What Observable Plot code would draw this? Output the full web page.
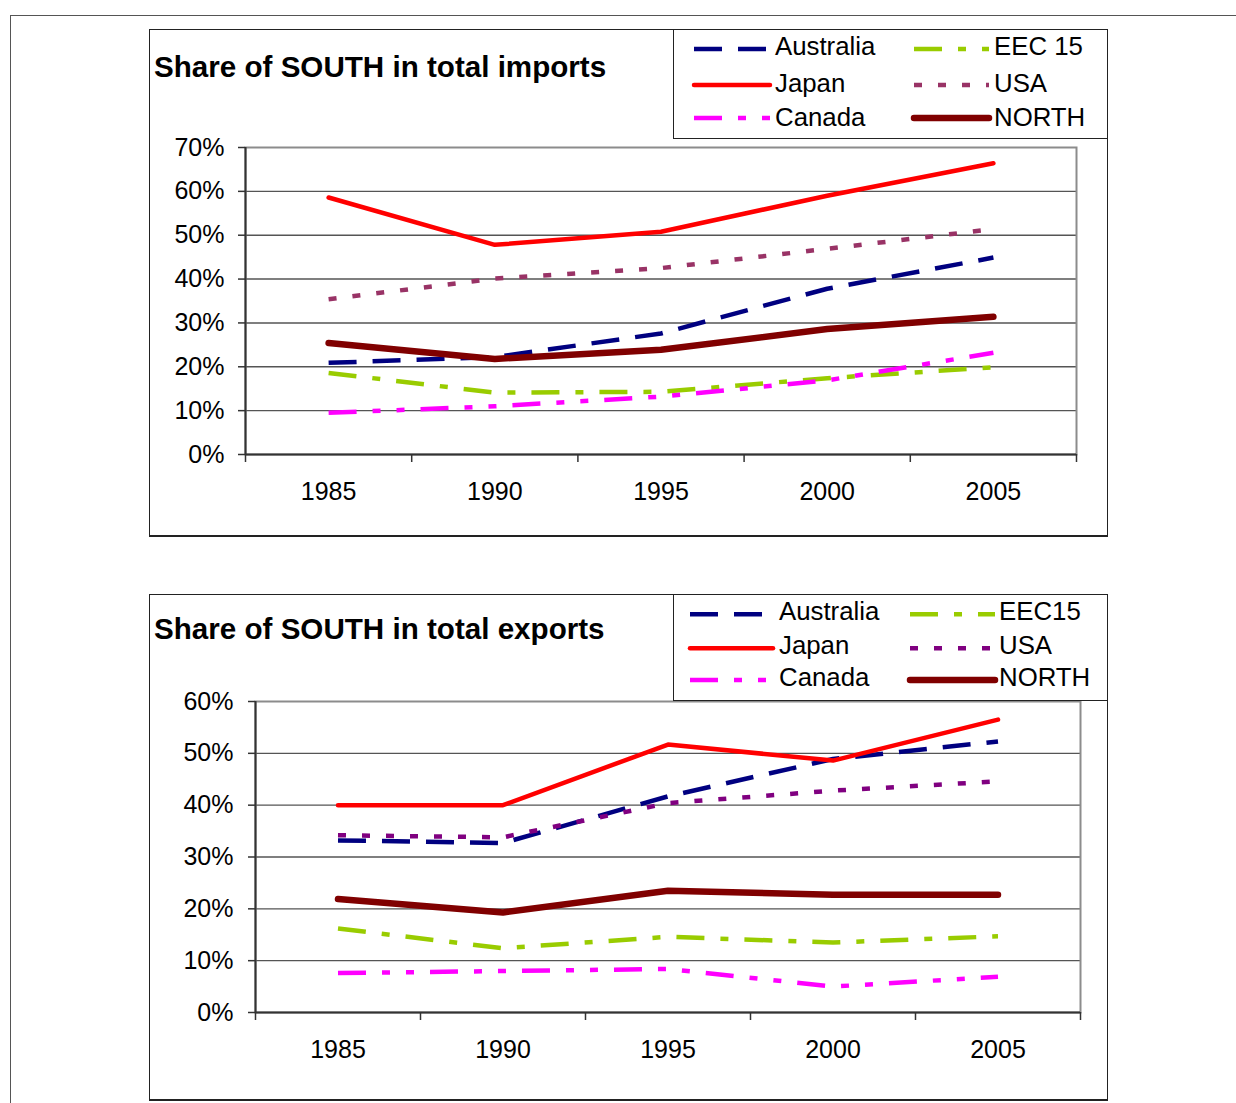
<!DOCTYPE html>
<html><head><meta charset="utf-8">
<script src="https://cdn.jsdelivr.net/npm/d3@7"></script>
<script src="https://cdn.jsdelivr.net/npm/@observablehq/plot@0.6"></script>
<style>
*{box-sizing:border-box;}
body{margin:0;width:1236px;height:1103px;position:relative;overflow:hidden;background:#fff;font-family:"Liberation Sans",Arial,sans-serif;color:#000;}
.outer{position:absolute;left:10px;top:15px;width:1260px;height:1120px;border-top:1.5px solid #555;border-left:1.5px solid #555;}
.box{position:absolute;left:149px;width:959px;border:1.5px solid #222;border-bottom-width:2.5px;}
.title{position:absolute;left:154px;font-weight:bold;font-size:29.6px;line-height:29px;white-space:nowrap;}
.legend{position:absolute;left:673px;width:435px;border:1.5px solid #222;background:#fff;}
.chart{position:absolute;left:150px;}
</style></head><body>
<div class="outer"></div>
<div class="box" style="top:29px;height:508px;"></div>
<div class="box" style="top:594px;height:507px;"></div>
<div class="title" style="top:52px;">Share of SOUTH in total imports</div>
<div class="title" style="top:614px;">Share of SOUTH in total exports</div>
<div id="chart1" class="chart" style="top:120px;"></div>
<div id="chart2" class="chart" style="top:680px;"></div>
<div id="legend1" class="legend" style="top:29px;height:110px;"></div>
<div id="legend2" class="legend" style="top:594px;height:107px;"></div>
<script>
// ---- data ----
const years = [1985, 1990, 1995, 2000, 2005];

const importNames = ["Australia", "Japan", "Canada", "EEC 15", "USA", "NORTH"];
const importsAustralia = [0.209, 0.222, 0.276, 0.378, 0.449];
const importsJapan     = [0.586, 0.478, 0.508, 0.590, 0.664];
const importsCanada    = [0.095, 0.110, 0.132, 0.169, 0.232];
const importsEEC15     = [0.186, 0.141, 0.143, 0.174, 0.199];
const importsUSA       = [0.354, 0.401, 0.425, 0.469, 0.514];
const importsNORTH     = [0.254, 0.218, 0.239, 0.286, 0.314];
const importTicks = [0, 0.1, 0.2, 0.3, 0.4, 0.5, 0.6, 0.7];

const exportNames = ["Australia", "Japan", "Canada", "EEC15", "USA", "NORTH"];
const exportsAustralia = [0.332, 0.327, 0.417, 0.489, 0.523];
const exportsJapan     = [0.400, 0.400, 0.517, 0.486, 0.565];
const exportsCanada    = [0.076, 0.080, 0.084, 0.050, 0.069];
const exportsEEC15     = [0.162, 0.124, 0.146, 0.135, 0.147];
const exportsUSA       = [0.342, 0.338, 0.404, 0.428, 0.446];
const exportsNORTH     = [0.219, 0.193, 0.235, 0.227, 0.227];
const exportTicks = [0, 0.1, 0.2, 0.3, 0.4, 0.5, 0.6];

// ---- styles ----
const styleAustralia = {stroke: "#000080", strokeWidth: 4.5, dash: "28,16", cap: "butt"};
const styleJapan = {stroke: "#ff0000", strokeWidth: 4.5, dash: null, cap: "round"};
const styleCanada = {stroke: "#ff00ff", strokeWidth: 4.5, dash: "28,16,8,16,8,16", cap: "butt"};
const styleEEC = {stroke: "#99cc00", strokeWidth: 4.5, dash: "28,16,8,16", cap: "butt"};
const styleNORTH = {stroke: "#800000", strokeWidth: 6.5, dash: null, cap: "round"};

const importSeries = [
  {name: importNames[0], values: importsAustralia, ...styleAustralia},
  {name: importNames[1], values: importsJapan, ...styleJapan},
  {name: importNames[2], values: importsCanada, ...styleCanada},
  {name: importNames[3], values: importsEEC15, ...styleEEC},
  {name: importNames[4], values: importsUSA, stroke: "#993366", strokeWidth: 4.5, dash: "8,16", cap: "butt"},
  {name: importNames[5], values: importsNORTH, ...styleNORTH}
];
const exportSeries = [
  {name: exportNames[0], values: exportsAustralia, ...styleAustralia},
  {name: exportNames[1], values: exportsJapan, ...styleJapan},
  {name: exportNames[2], values: exportsCanada, ...styleCanada},
  {name: exportNames[3], values: exportsEEC15, ...styleEEC},
  {name: exportNames[4], values: exportsUSA, stroke: "#800080", strokeWidth: 4.5, dash: "8,16", cap: "butt"},
  {name: exportNames[5], values: exportsNORTH, ...styleNORTH}
];

function drawChart(el, series, yTicks, order, m) {
  const step = years[1] - years[0];
  const xDomain = [years[0] - step / 2, years[years.length - 1] + step / 2];
  const bounds = d3.range(years.length + 1).map(i => xDomain[0] + i * step);
  const yDomain = [0, yTicks[yTicks.length - 1]];
  const lineMarks = order.map(i => {
    const s = series[i];
    const rows = years.map((yr, j) => ({year: yr, value: s.values[j]}));
    return Plot.line(rows, {
      x: "year", y: "value", stroke: s.stroke, strokeWidth: s.strokeWidth,
      strokeDasharray: s.dash || undefined, strokeLinecap: s.cap, strokeLinejoin: "round"
    });
  });
  const svg = Plot.plot({
    width: 958, height: m.height,
    marginLeft: m.left, marginRight: m.right, marginTop: m.top, marginBottom: m.bottom,
    style: {background: "transparent", fontFamily: "'Liberation Sans', Arial, sans-serif", fontSize: "25px", color: "#000", overflow: "visible"},
    x: {domain: xDomain},
    y: {domain: yDomain},
    marks: [
      Plot.ruleY(yTicks.slice(1, -1), {stroke: "#555", strokeWidth: 1.4}),
      Plot.frame({stroke: "#8c8c8c", strokeWidth: 2}),
      Plot.ruleX([xDomain[0]], {stroke: "#333", strokeWidth: 2}),
      Plot.ruleY([0], {stroke: "#333", strokeWidth: 2}),
      Plot.axisY({ticks: yTicks, tickFormat: d3.format(".0%"), tickSize: 7, tickPadding: m.tickPad, label: null, stroke: "#333", strokeWidth: 1.5}),
      Plot.axisX({ticks: bounds, tickSize: 8, tickFormat: () => "", label: null, stroke: "#333", strokeWidth: 1.5}),
      Plot.axisX({ticks: years, tickSize: 0, tickPadding: 28, tickFormat: d => String(d), label: null}),
      ...lineMarks
    ]
  });
  document.getElementById(el).appendChild(svg);
}

drawChart("chart1", importSeries, importTicks, [3, 2, 0, 4, 1, 5],
  {height: 410, left: 95, right: 32, top: 27, bottom: 76, tickPad: 14});
drawChart("chart2", exportSeries, exportTicks, [0, 4, 1, 3, 2, 5],
  {height: 420, left: 105, right: 28, top: 21, bottom: 88, tickPad: 15});

function drawLegend(el, series, cfg) {
  const svg = d3.select("#" + el).append("svg")
    .attr("width", 435).attr("height", 110)
    .style("position", "absolute").style("left", "-1.5px").style("top", "-1.5px")
    .style("overflow", "visible");
  series.forEach((s, i) => {
    const col = i < 3 ? 0 : 1;
    const row = i % 3;
    const c = cfg.cols[col];
    svg.append("line")
      .attr("x1", c.x0).attr("x2", c.x1)
      .attr("y1", cfg.lineY[row]).attr("y2", cfg.lineY[row])
      .attr("stroke", s.stroke).attr("stroke-width", s.strokeWidth)
      .attr("stroke-dasharray", s.dash)
      .attr("stroke-linecap", s.cap);
    svg.append("text")
      .attr("x", c.tx).attr("y", cfg.textY[row])
      .attr("dy", "0.35em")
      .attr("font-family", "'Liberation Sans', Arial, sans-serif")
      .attr("font-size", 25.8)
      .text(s.name);
  });
}
drawLegend("legend1", importSeries, {
  cols: [{x0: 21, x1: 97, tx: 102}, {x0: 241, x1: 316, tx: 321}],
  lineY: [20, 56, 89], textY: [17, 53.5, 87.5]
});
drawLegend("legend2", exportSeries, {
  cols: [{x0: 17, x1: 100, tx: 106}, {x0: 237, x1: 322, tx: 326}],
  lineY: [20.3, 54.3, 86], textY: [17, 51, 82.5]
});
</script>
</body></html>
